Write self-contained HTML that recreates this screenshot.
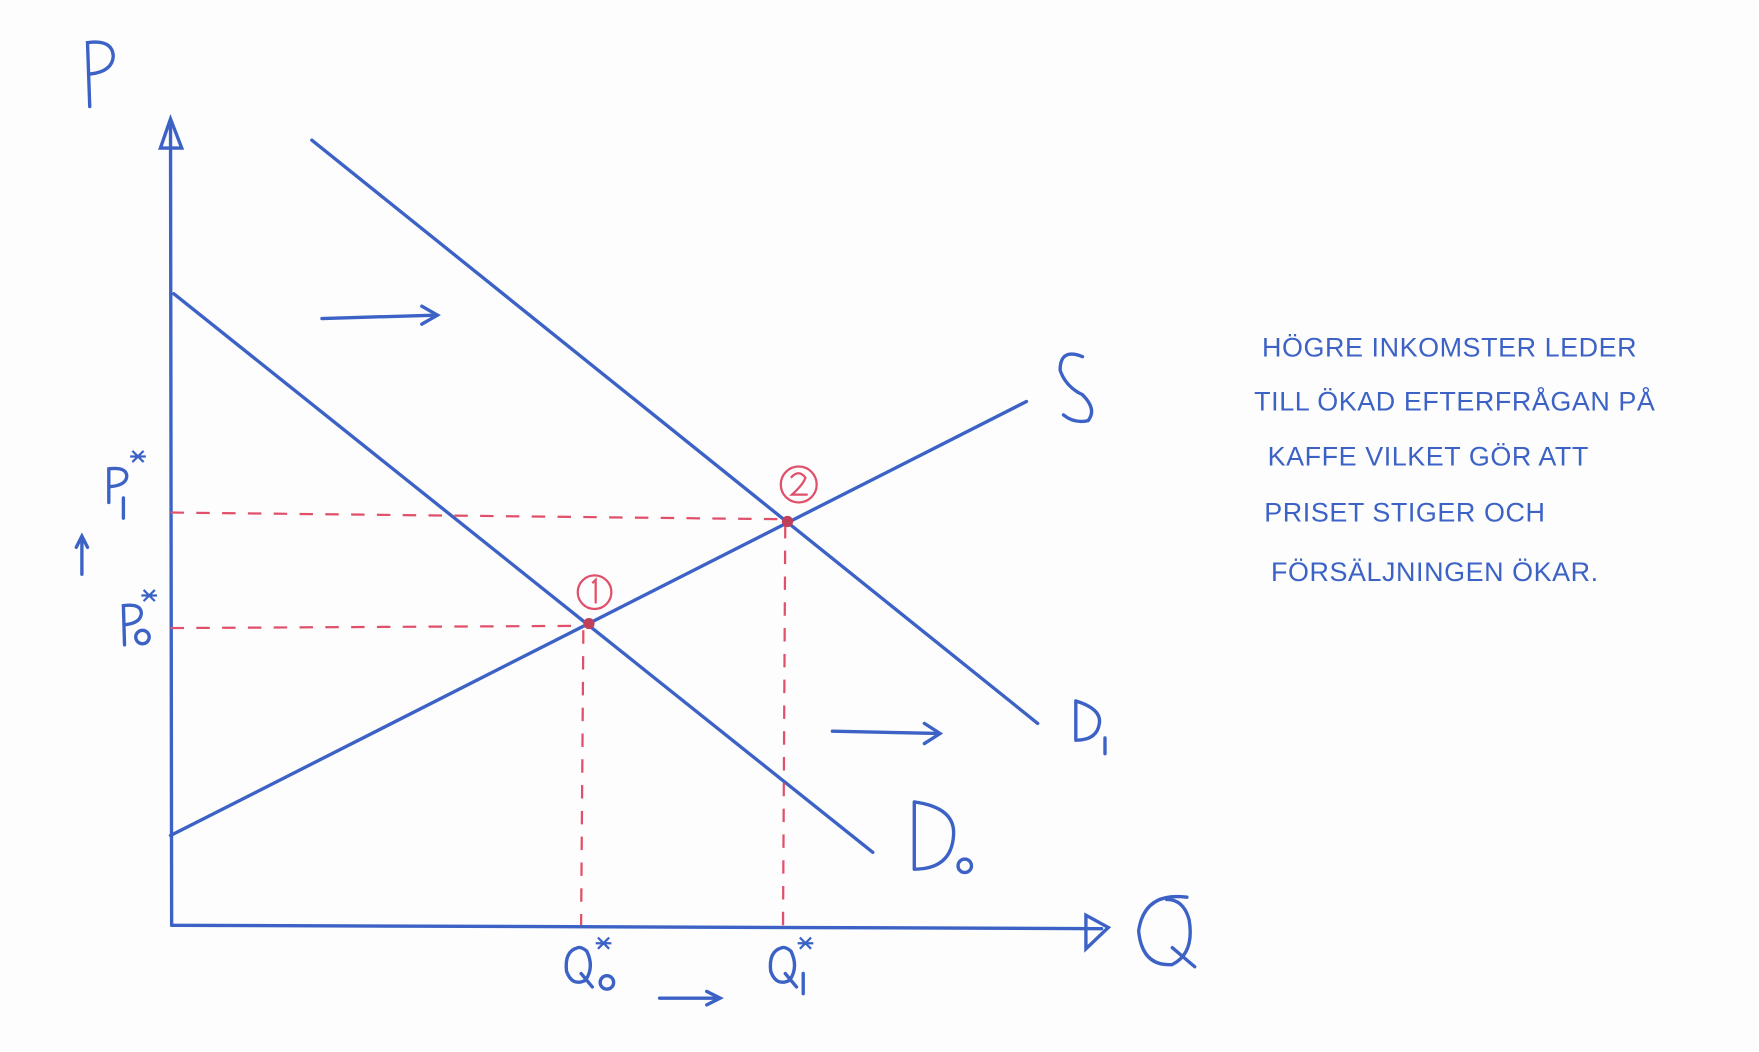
<!DOCTYPE html>
<html><head><meta charset="utf-8"><style>
html,body{margin:0;padding:0;background:#fff;}
svg{display:block}
text{font-family:"Liberation Sans",sans-serif;fill:#3c62c6}
</style></head><body>
<svg width="1759" height="1052" viewBox="0 0 1568 938" preserveAspectRatio="none" xmlns="http://www.w3.org/2000/svg">
<rect width="1568" height="938" fill="#fdfdfd"/>
<g stroke="#3c62c6" stroke-width="3" fill="none" stroke-linecap="round">
<line x1="152" y1="112" x2="153" y2="825"/>
<path d="M143 132 L152 106 L162 132 Z"/>
<line x1="153" y1="825" x2="982" y2="828"/>
<path d="M968 816 L988 827 L968 846 Z"/>
<line x1="278" y1="125" x2="925" y2="645"/>
<line x1="155" y1="262" x2="778" y2="760"/>
<line x1="152" y1="745" x2="915" y2="358"/>
<line x1="287" y1="284" x2="388" y2="281"/><path d="M376 273 L390 281 L376 289"/>
<line x1="742" y1="652" x2="836" y2="654"/><path d="M824 645 L838 654 L824 663"/>
<line x1="588" y1="890" x2="640" y2="890"/><path d="M630 884 L642 890 L630 896"/>
<line x1="73" y1="512" x2="73" y2="480"/><path d="M68 488 L73 478 L78 488"/>
<path d="M80 95 L78 38 Q100 35 101 50 Q100 64 80 66"/>
<path d="M1058 800 Q1020 795 1015 830 Q1018 862 1045 860 Q1065 850 1060 820 Q1055 802 1040 802 M1045 845 L1065 862"/>
<path d="M965 318 Q945 310 945 330 Q950 345 965 352 Q978 365 970 375 Q958 378 948 370"/>
<path d="M959 625 L959 660 M959 625 Q982 632 980 645 Q978 660 959 660 M985 658 L985 672"/>
<path d="M815 715 L815 775 M815 715 Q852 720 850 745 Q848 775 815 775"/>
<circle cx="860" cy="772" r="6"/>
<path d="M97 448 L97 418 Q113 416 113 425 Q112 433 97 434 M110 444 L110 462"/>
<path d="M111 575 L110 540 Q126 538 126 547 Q125 556 111 557"/><circle cx="127" cy="568" r="6"/>
<path d="M515 845 Q503 848 505 866 Q510 880 522 874 Q530 862 523 848 Q518 844 515 845 M518 868 L528 880"/><circle cx="541" cy="876" r="6"/>
<path d="M697 845 Q685 848 687 866 Q692 880 704 874 Q712 862 705 848 Q700 844 697 845 M700 868 L710 880 M716 868 L716 886"/>
</g>
<g stroke="#3c62c6" stroke-width="2" fill="none">
<path d="M118 412 l10 -10 M118 402 l10 10 M116 407 h14"/>
<path d="M128 536 l10 -10 M128 526 l10 10 M126 531 h14"/>
<path d="M533 846 l10 -10 M533 836 l10 10 M531 841 h14"/>
<path d="M713 846 l10 -10 M713 836 l10 10 M711 841 h14"/>
</g>
<g stroke="#e0506a" stroke-width="2" stroke-dasharray="12,11" fill="none">
<line x1="152" y1="457" x2="702" y2="463"/>
<line x1="152" y1="560" x2="525" y2="558"/>
<line x1="520" y1="562" x2="518" y2="825"/>
<line x1="700" y1="468" x2="698" y2="825"/>
</g>
<g stroke="#e0506a" stroke-width="2" fill="none">
<circle cx="530" cy="528" r="15"/><circle cx="712" cy="432" r="16"/>
<path d="M528 520 L531 517 L531 538"/>
<path d="M705 426 Q712 418 718 426 Q716 432 706 441 L720 441"/>
</g>
<circle cx="525" cy="556" r="5" fill="#c0405a"/><circle cx="702" cy="465" r="5" fill="#c0405a"/>
<g font-size="24" letter-spacing="0.5">
<text x="1125" y="318">HÖGRE INKOMSTER LEDER</text>
<text x="1118" y="366">TILL ÖKAD EFTERFRÅGAN PÅ</text>
<text x="1130" y="415">KAFFE VILKET GÖR ATT</text>
<text x="1127" y="465">PRISET STIGER OCH</text>
<text x="1133" y="518">FÖRSÄLJNINGEN ÖKAR.</text>
</g>
</svg>
</body></html>
